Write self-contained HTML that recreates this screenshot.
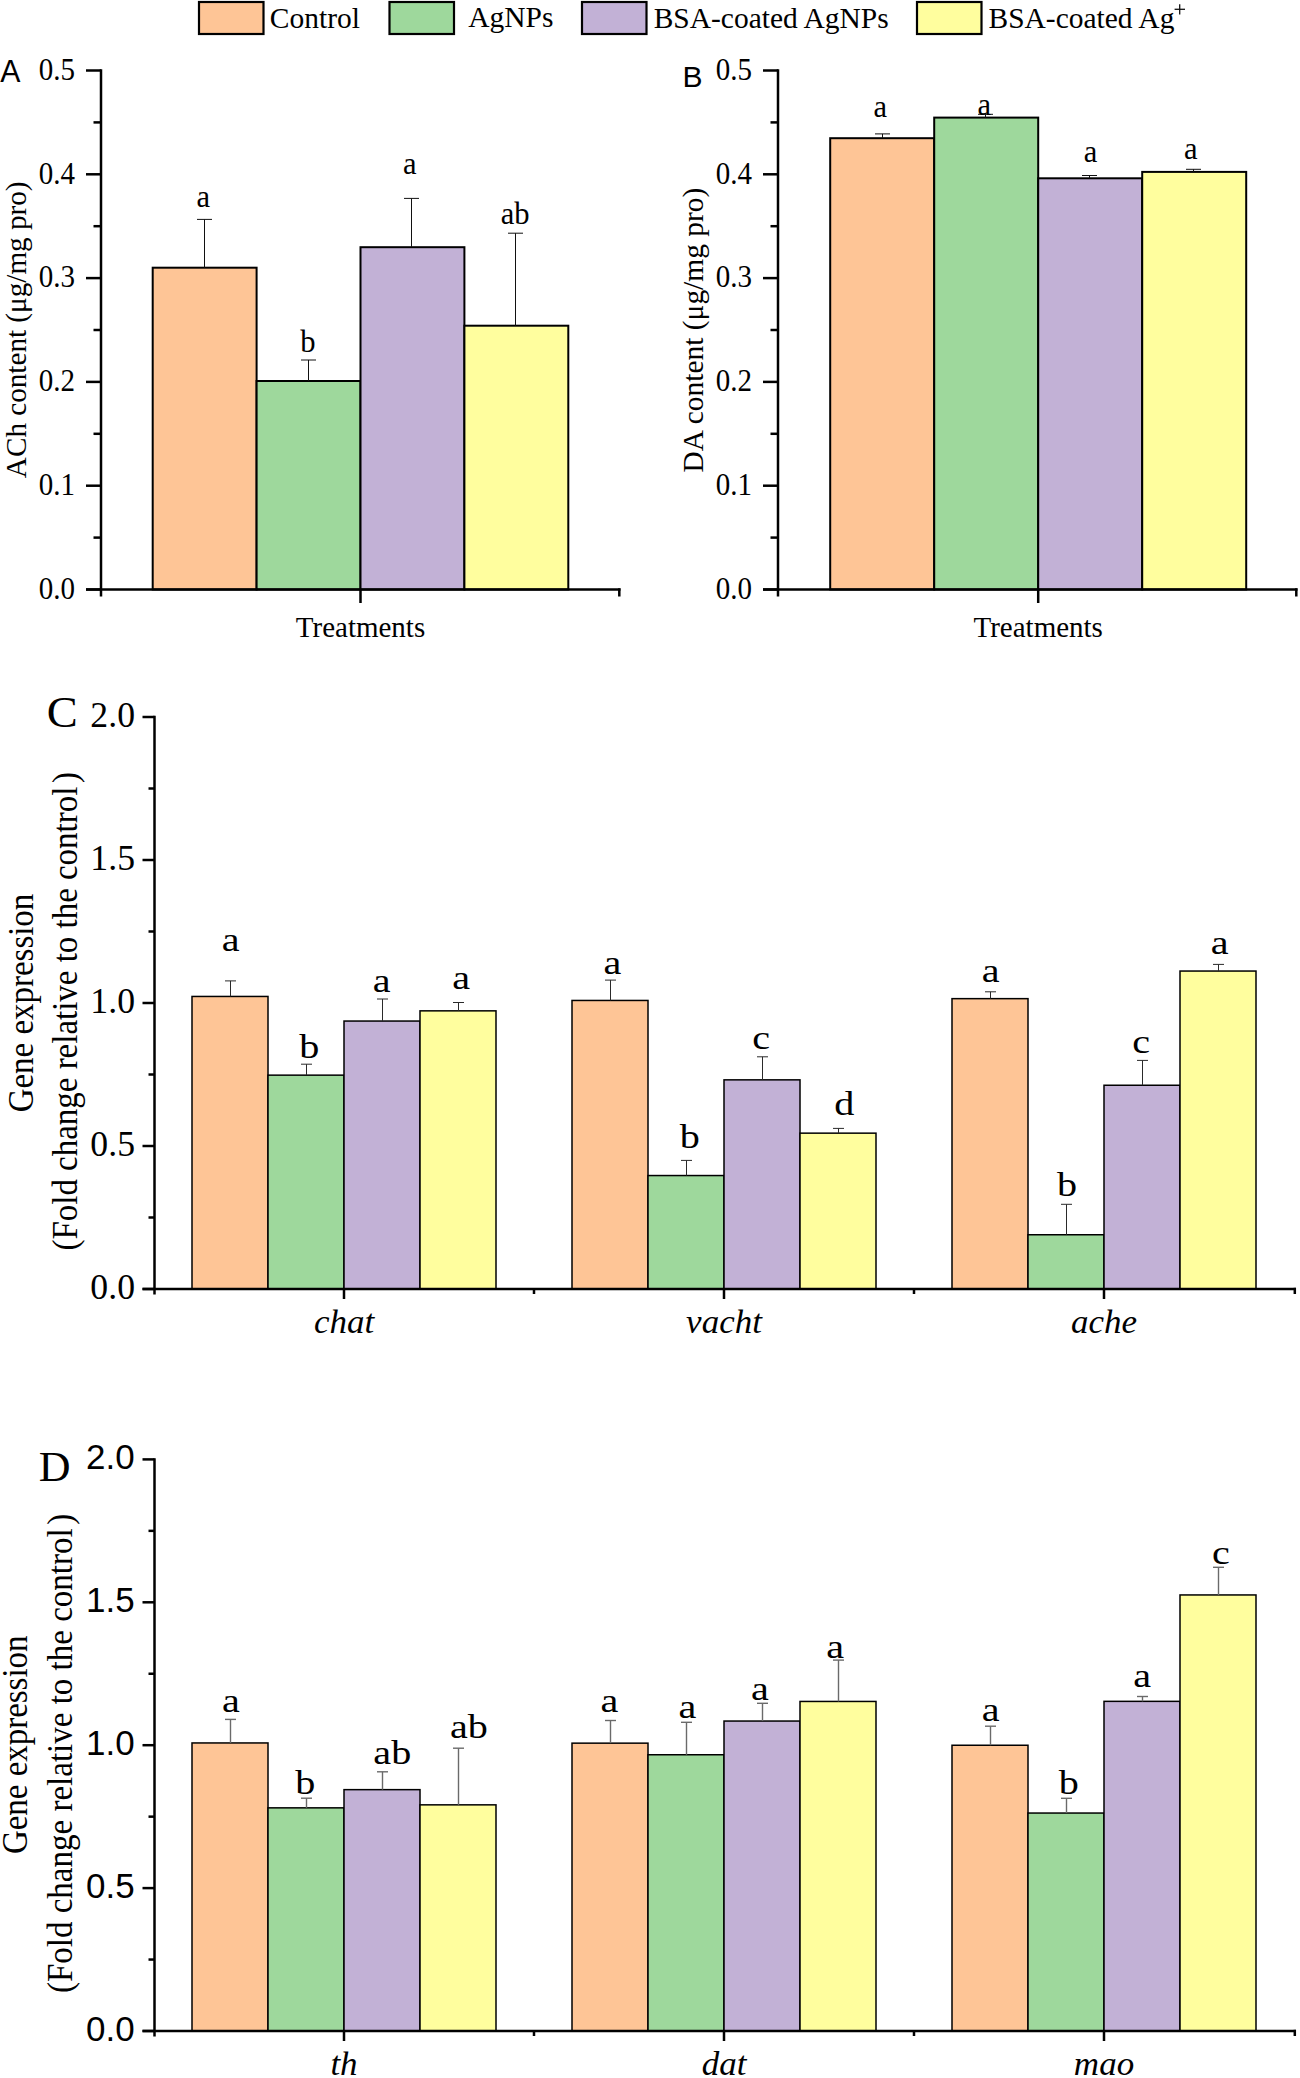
<!DOCTYPE html>
<html><head><meta charset="utf-8"><style>
html,body{margin:0;padding:0;background:#fff;}
svg{display:block;}
</style></head><body>
<svg width="1300" height="2078" viewBox="0 0 1300 2078">
<rect width="1300" height="2078" fill="#fff"/>
<rect x="199" y="2" width="64.5" height="32" fill="#FEC596" stroke="#000" stroke-width="2.2"/>
<rect x="389.5" y="2" width="64.5" height="32" fill="#9ED89C" stroke="#000" stroke-width="2.2"/>
<rect x="582" y="2" width="64.5" height="32" fill="#C2B1D6" stroke="#000" stroke-width="2.2"/>
<rect x="917" y="2" width="64.5" height="32" fill="#FFFE9E" stroke="#000" stroke-width="2.2"/>
<line x1="1174.6" y1="9.3" x2="1185" y2="9.3" stroke="#111" stroke-width="1.3"/>
<line x1="1179.7" y1="4.2" x2="1179.7" y2="14.5" stroke="#111" stroke-width="1.3"/>
<rect x="152.7" y="267.7" width="103.9" height="321.8" fill="#FEC596" stroke="#000" stroke-width="2"/>
<rect x="256.6" y="381" width="103.9" height="208.5" fill="#9ED89C" stroke="#000" stroke-width="2"/>
<rect x="360.5" y="247.2" width="103.9" height="342.3" fill="#C2B1D6" stroke="#000" stroke-width="2"/>
<rect x="464.40000000000003" y="325.7" width="103.9" height="263.8" fill="#FFFE9E" stroke="#000" stroke-width="2"/>
<line x1="204.5" y1="219.4" x2="204.5" y2="267.7" stroke="#111" stroke-width="1"/>
<line x1="197.0" y1="219.4" x2="212.0" y2="219.4" stroke="#111" stroke-width="1"/>
<line x1="308.5" y1="360" x2="308.5" y2="381" stroke="#111" stroke-width="1"/>
<line x1="301.0" y1="360" x2="316.0" y2="360" stroke="#111" stroke-width="1"/>
<line x1="411.5" y1="198.4" x2="411.5" y2="247.2" stroke="#111" stroke-width="1"/>
<line x1="404.0" y1="198.4" x2="419.0" y2="198.4" stroke="#111" stroke-width="1"/>
<line x1="515.5" y1="233.2" x2="515.5" y2="325.7" stroke="#111" stroke-width="1"/>
<line x1="508.0" y1="233.2" x2="523.0" y2="233.2" stroke="#111" stroke-width="1"/>
<line x1="101" y1="69.3" x2="101" y2="596.5" stroke="#000" stroke-width="2.5"/>
<line x1="86" y1="589.5" x2="620.5" y2="589.5" stroke="#000" stroke-width="2.5"/>
<line x1="86" y1="589.5" x2="101" y2="589.5" stroke="#000" stroke-width="2.5"/>
<line x1="86" y1="485.7" x2="101" y2="485.7" stroke="#000" stroke-width="2.5"/>
<line x1="86" y1="381.9" x2="101" y2="381.9" stroke="#000" stroke-width="2.5"/>
<line x1="86" y1="278.1" x2="101" y2="278.1" stroke="#000" stroke-width="2.5"/>
<line x1="86" y1="174.3" x2="101" y2="174.3" stroke="#000" stroke-width="2.5"/>
<line x1="86" y1="70.5" x2="101" y2="70.5" stroke="#000" stroke-width="2.5"/>
<line x1="93.5" y1="537.6" x2="101" y2="537.6" stroke="#000" stroke-width="2.5"/>
<line x1="93.5" y1="433.8" x2="101" y2="433.8" stroke="#000" stroke-width="2.5"/>
<line x1="93.5" y1="330.0" x2="101" y2="330.0" stroke="#000" stroke-width="2.5"/>
<line x1="93.5" y1="226.2" x2="101" y2="226.2" stroke="#000" stroke-width="2.5"/>
<line x1="93.5" y1="122.40000000000003" x2="101" y2="122.40000000000003" stroke="#000" stroke-width="2.5"/>
<line x1="360.5" y1="589.5" x2="360.5" y2="603.0" stroke="#000" stroke-width="2.5"/>
<line x1="619.3" y1="588.3" x2="619.3" y2="596.5" stroke="#000" stroke-width="2.5"/>
<rect x="830.2" y="138.2" width="104" height="451.3" fill="#FEC596" stroke="#000" stroke-width="2"/>
<rect x="934.2" y="117.6" width="104" height="471.9" fill="#9ED89C" stroke="#000" stroke-width="2"/>
<rect x="1038.2" y="178.3" width="104" height="411.2" fill="#C2B1D6" stroke="#000" stroke-width="2"/>
<rect x="1142.2" y="171.9" width="104" height="417.6" fill="#FFFE9E" stroke="#000" stroke-width="2"/>
<line x1="882.5" y1="133.9" x2="882.5" y2="138.2" stroke="#111" stroke-width="1"/>
<line x1="875.0" y1="133.9" x2="890.0" y2="133.9" stroke="#111" stroke-width="1"/>
<line x1="985.5" y1="114.3" x2="985.5" y2="117.6" stroke="#111" stroke-width="1"/>
<line x1="978.0" y1="114.3" x2="993.0" y2="114.3" stroke="#111" stroke-width="1"/>
<line x1="1089.5" y1="175.5" x2="1089.5" y2="178.3" stroke="#111" stroke-width="1"/>
<line x1="1082.0" y1="175.5" x2="1097.0" y2="175.5" stroke="#111" stroke-width="1"/>
<line x1="1193.5" y1="169.3" x2="1193.5" y2="171.9" stroke="#111" stroke-width="1"/>
<line x1="1186.0" y1="169.3" x2="1201.0" y2="169.3" stroke="#111" stroke-width="1"/>
<line x1="778" y1="69.3" x2="778" y2="596.5" stroke="#000" stroke-width="2.5"/>
<line x1="763" y1="589.5" x2="1297.5" y2="589.5" stroke="#000" stroke-width="2.5"/>
<line x1="763" y1="589.5" x2="778" y2="589.5" stroke="#000" stroke-width="2.5"/>
<line x1="763" y1="485.7" x2="778" y2="485.7" stroke="#000" stroke-width="2.5"/>
<line x1="763" y1="381.9" x2="778" y2="381.9" stroke="#000" stroke-width="2.5"/>
<line x1="763" y1="278.1" x2="778" y2="278.1" stroke="#000" stroke-width="2.5"/>
<line x1="763" y1="174.3" x2="778" y2="174.3" stroke="#000" stroke-width="2.5"/>
<line x1="763" y1="70.5" x2="778" y2="70.5" stroke="#000" stroke-width="2.5"/>
<line x1="770.5" y1="537.6" x2="778" y2="537.6" stroke="#000" stroke-width="2.5"/>
<line x1="770.5" y1="433.8" x2="778" y2="433.8" stroke="#000" stroke-width="2.5"/>
<line x1="770.5" y1="330.0" x2="778" y2="330.0" stroke="#000" stroke-width="2.5"/>
<line x1="770.5" y1="226.2" x2="778" y2="226.2" stroke="#000" stroke-width="2.5"/>
<line x1="770.5" y1="122.40000000000003" x2="778" y2="122.40000000000003" stroke="#000" stroke-width="2.5"/>
<line x1="1038.2" y1="589.5" x2="1038.2" y2="603.0" stroke="#000" stroke-width="2.5"/>
<line x1="1296.3" y1="588.3" x2="1296.3" y2="596.5" stroke="#000" stroke-width="2.5"/>
<rect x="192" y="996.45" width="76" height="292.54999999999995" fill="#FEC596" stroke="#000" stroke-width="1.5"/>
<rect x="268" y="1075.15" width="76" height="213.8499999999999" fill="#9ED89C" stroke="#000" stroke-width="1.5"/>
<rect x="344" y="1021.05" width="76" height="267.95000000000005" fill="#C2B1D6" stroke="#000" stroke-width="1.5"/>
<rect x="420" y="1010.85" width="76" height="278.15" fill="#FFFE9E" stroke="#000" stroke-width="1.5"/>
<rect x="572" y="1000.45" width="76" height="288.54999999999995" fill="#FEC596" stroke="#000" stroke-width="1.5"/>
<rect x="648" y="1175.55" width="76" height="113.45000000000005" fill="#9ED89C" stroke="#000" stroke-width="1.5"/>
<rect x="724" y="1079.85" width="76" height="209.1500000000001" fill="#C2B1D6" stroke="#000" stroke-width="1.5"/>
<rect x="800" y="1133.15" width="76" height="155.8499999999999" fill="#FFFE9E" stroke="#000" stroke-width="1.5"/>
<rect x="952" y="998.65" width="76" height="290.35" fill="#FEC596" stroke="#000" stroke-width="1.5"/>
<rect x="1028" y="1234.75" width="76" height="54.25" fill="#9ED89C" stroke="#000" stroke-width="1.5"/>
<rect x="1104" y="1085.25" width="76" height="203.75" fill="#C2B1D6" stroke="#000" stroke-width="1.5"/>
<rect x="1180" y="971.05" width="76" height="317.95000000000005" fill="#FFFE9E" stroke="#000" stroke-width="1.5"/>
<line x1="230.5" y1="980.9" x2="230.5" y2="996.45" stroke="#2a2a2a" stroke-width="1"/>
<line x1="225.0" y1="980.9" x2="236.0" y2="980.9" stroke="#2a2a2a" stroke-width="1"/>
<line x1="306.5" y1="1064.2" x2="306.5" y2="1075.15" stroke="#2a2a2a" stroke-width="1"/>
<line x1="301.0" y1="1064.2" x2="312.0" y2="1064.2" stroke="#2a2a2a" stroke-width="1"/>
<line x1="382.5" y1="999" x2="382.5" y2="1021.05" stroke="#2a2a2a" stroke-width="1"/>
<line x1="377.0" y1="999" x2="388.0" y2="999" stroke="#2a2a2a" stroke-width="1"/>
<line x1="458.5" y1="1002.5" x2="458.5" y2="1010.85" stroke="#2a2a2a" stroke-width="1"/>
<line x1="453.0" y1="1002.5" x2="464.0" y2="1002.5" stroke="#2a2a2a" stroke-width="1"/>
<line x1="610.5" y1="980.1" x2="610.5" y2="1000.45" stroke="#2a2a2a" stroke-width="1"/>
<line x1="605.0" y1="980.1" x2="616.0" y2="980.1" stroke="#2a2a2a" stroke-width="1"/>
<line x1="686.5" y1="1160.4" x2="686.5" y2="1175.55" stroke="#2a2a2a" stroke-width="1"/>
<line x1="681.0" y1="1160.4" x2="692.0" y2="1160.4" stroke="#2a2a2a" stroke-width="1"/>
<line x1="762.5" y1="1056.8" x2="762.5" y2="1079.85" stroke="#2a2a2a" stroke-width="1"/>
<line x1="757.0" y1="1056.8" x2="768.0" y2="1056.8" stroke="#2a2a2a" stroke-width="1"/>
<line x1="838.5" y1="1128.4" x2="838.5" y2="1133.15" stroke="#2a2a2a" stroke-width="1"/>
<line x1="833.0" y1="1128.4" x2="844.0" y2="1128.4" stroke="#2a2a2a" stroke-width="1"/>
<line x1="990.5" y1="991.8" x2="990.5" y2="998.65" stroke="#2a2a2a" stroke-width="1"/>
<line x1="985.0" y1="991.8" x2="996.0" y2="991.8" stroke="#2a2a2a" stroke-width="1"/>
<line x1="1066.5" y1="1204.3" x2="1066.5" y2="1234.75" stroke="#2a2a2a" stroke-width="1"/>
<line x1="1061.0" y1="1204.3" x2="1072.0" y2="1204.3" stroke="#2a2a2a" stroke-width="1"/>
<line x1="1142.5" y1="1060.4" x2="1142.5" y2="1085.25" stroke="#2a2a2a" stroke-width="1"/>
<line x1="1137.0" y1="1060.4" x2="1148.0" y2="1060.4" stroke="#2a2a2a" stroke-width="1"/>
<line x1="1218.5" y1="964.4" x2="1218.5" y2="971.05" stroke="#2a2a2a" stroke-width="1"/>
<line x1="1213.0" y1="964.4" x2="1224.0" y2="964.4" stroke="#2a2a2a" stroke-width="1"/>
<line x1="154.5" y1="715.8" x2="154.5" y2="1294.5" stroke="#000" stroke-width="2.5"/>
<line x1="142.5" y1="1289" x2="1296" y2="1289" stroke="#000" stroke-width="2.5"/>
<line x1="142.5" y1="1289" x2="154.5" y2="1289" stroke="#000" stroke-width="2.5"/>
<line x1="142.5" y1="1146" x2="154.5" y2="1146" stroke="#000" stroke-width="2.5"/>
<line x1="142.5" y1="1003" x2="154.5" y2="1003" stroke="#000" stroke-width="2.5"/>
<line x1="142.5" y1="860" x2="154.5" y2="860" stroke="#000" stroke-width="2.5"/>
<line x1="142.5" y1="717" x2="154.5" y2="717" stroke="#000" stroke-width="2.5"/>
<line x1="148.5" y1="1217.5" x2="154.5" y2="1217.5" stroke="#000" stroke-width="2.5"/>
<line x1="148.5" y1="1074.5" x2="154.5" y2="1074.5" stroke="#000" stroke-width="2.5"/>
<line x1="148.5" y1="931.5" x2="154.5" y2="931.5" stroke="#000" stroke-width="2.5"/>
<line x1="148.5" y1="788.5" x2="154.5" y2="788.5" stroke="#000" stroke-width="2.5"/>
<line x1="344" y1="1289" x2="344" y2="1299" stroke="#000" stroke-width="2.5"/>
<line x1="724" y1="1289" x2="724" y2="1299" stroke="#000" stroke-width="2.5"/>
<line x1="1104" y1="1289" x2="1104" y2="1299" stroke="#000" stroke-width="2.5"/>
<line x1="534" y1="1289" x2="534" y2="1294" stroke="#000" stroke-width="2.5"/>
<line x1="914" y1="1289" x2="914" y2="1294" stroke="#000" stroke-width="2.5"/>
<line x1="1294.8" y1="1287.8" x2="1294.8" y2="1294" stroke="#000" stroke-width="2.5"/>
<rect x="192" y="1742.95" width="76" height="288.04999999999995" fill="#FEC596" stroke="#000" stroke-width="1.5"/>
<rect x="268" y="1807.85" width="76" height="223.1500000000001" fill="#9ED89C" stroke="#000" stroke-width="1.5"/>
<rect x="344" y="1789.65" width="76" height="241.3499999999999" fill="#C2B1D6" stroke="#000" stroke-width="1.5"/>
<rect x="420" y="1804.85" width="76" height="226.1500000000001" fill="#FFFE9E" stroke="#000" stroke-width="1.5"/>
<rect x="572" y="1743.15" width="76" height="287.8499999999999" fill="#FEC596" stroke="#000" stroke-width="1.5"/>
<rect x="648" y="1754.75" width="76" height="276.25" fill="#9ED89C" stroke="#000" stroke-width="1.5"/>
<rect x="724" y="1721.05" width="76" height="309.95000000000005" fill="#C2B1D6" stroke="#000" stroke-width="1.5"/>
<rect x="800" y="1701.45" width="76" height="329.54999999999995" fill="#FFFE9E" stroke="#000" stroke-width="1.5"/>
<rect x="952" y="1745.25" width="76" height="285.75" fill="#FEC596" stroke="#000" stroke-width="1.5"/>
<rect x="1028" y="1813.05" width="76" height="217.95000000000005" fill="#9ED89C" stroke="#000" stroke-width="1.5"/>
<rect x="1104" y="1701.35" width="76" height="329.6500000000001" fill="#C2B1D6" stroke="#000" stroke-width="1.5"/>
<rect x="1180" y="1594.95" width="76" height="436.04999999999995" fill="#FFFE9E" stroke="#000" stroke-width="1.5"/>
<line x1="230.5" y1="1719.4" x2="230.5" y2="1742.95" stroke="#6a6a6a" stroke-width="1.4"/>
<line x1="225.0" y1="1719.4" x2="236.0" y2="1719.4" stroke="#6a6a6a" stroke-width="1.4"/>
<line x1="306.5" y1="1798.2" x2="306.5" y2="1807.85" stroke="#6a6a6a" stroke-width="1.4"/>
<line x1="301.0" y1="1798.2" x2="312.0" y2="1798.2" stroke="#6a6a6a" stroke-width="1.4"/>
<line x1="382.5" y1="1771.8" x2="382.5" y2="1789.65" stroke="#6a6a6a" stroke-width="1.4"/>
<line x1="377.0" y1="1771.8" x2="388.0" y2="1771.8" stroke="#6a6a6a" stroke-width="1.4"/>
<line x1="458.5" y1="1748.2" x2="458.5" y2="1804.85" stroke="#6a6a6a" stroke-width="1.4"/>
<line x1="453.0" y1="1748.2" x2="464.0" y2="1748.2" stroke="#6a6a6a" stroke-width="1.4"/>
<line x1="610.5" y1="1720.5" x2="610.5" y2="1743.15" stroke="#6a6a6a" stroke-width="1.4"/>
<line x1="605.0" y1="1720.5" x2="616.0" y2="1720.5" stroke="#6a6a6a" stroke-width="1.4"/>
<line x1="686.5" y1="1722.3" x2="686.5" y2="1754.75" stroke="#6a6a6a" stroke-width="1.4"/>
<line x1="681.0" y1="1722.3" x2="692.0" y2="1722.3" stroke="#6a6a6a" stroke-width="1.4"/>
<line x1="762.5" y1="1703.3" x2="762.5" y2="1721.05" stroke="#6a6a6a" stroke-width="1.4"/>
<line x1="757.0" y1="1703.3" x2="768.0" y2="1703.3" stroke="#6a6a6a" stroke-width="1.4"/>
<line x1="838.5" y1="1660.1" x2="838.5" y2="1701.45" stroke="#6a6a6a" stroke-width="1.4"/>
<line x1="833.0" y1="1660.1" x2="844.0" y2="1660.1" stroke="#6a6a6a" stroke-width="1.4"/>
<line x1="990.5" y1="1726.2" x2="990.5" y2="1745.25" stroke="#6a6a6a" stroke-width="1.4"/>
<line x1="985.0" y1="1726.2" x2="996.0" y2="1726.2" stroke="#6a6a6a" stroke-width="1.4"/>
<line x1="1066.5" y1="1798.3" x2="1066.5" y2="1813.05" stroke="#6a6a6a" stroke-width="1.4"/>
<line x1="1061.0" y1="1798.3" x2="1072.0" y2="1798.3" stroke="#6a6a6a" stroke-width="1.4"/>
<line x1="1142.5" y1="1696.5" x2="1142.5" y2="1701.35" stroke="#6a6a6a" stroke-width="1.4"/>
<line x1="1137.0" y1="1696.5" x2="1148.0" y2="1696.5" stroke="#6a6a6a" stroke-width="1.4"/>
<line x1="1218.5" y1="1567.3" x2="1218.5" y2="1594.95" stroke="#6a6a6a" stroke-width="1.4"/>
<line x1="1213.0" y1="1567.3" x2="1224.0" y2="1567.3" stroke="#6a6a6a" stroke-width="1.4"/>
<line x1="154.5" y1="1458.2" x2="154.5" y2="2036.5" stroke="#000" stroke-width="2.5"/>
<line x1="142.5" y1="2031" x2="1296" y2="2031" stroke="#000" stroke-width="2.5"/>
<line x1="142.5" y1="2031.0" x2="154.5" y2="2031.0" stroke="#000" stroke-width="2.5"/>
<line x1="142.5" y1="1888.1" x2="154.5" y2="1888.1" stroke="#000" stroke-width="2.5"/>
<line x1="142.5" y1="1745.2" x2="154.5" y2="1745.2" stroke="#000" stroke-width="2.5"/>
<line x1="142.5" y1="1602.3" x2="154.5" y2="1602.3" stroke="#000" stroke-width="2.5"/>
<line x1="142.5" y1="1459.4" x2="154.5" y2="1459.4" stroke="#000" stroke-width="2.5"/>
<line x1="148.5" y1="1959.55" x2="154.5" y2="1959.55" stroke="#000" stroke-width="2.5"/>
<line x1="148.5" y1="1816.65" x2="154.5" y2="1816.65" stroke="#000" stroke-width="2.5"/>
<line x1="148.5" y1="1673.75" x2="154.5" y2="1673.75" stroke="#000" stroke-width="2.5"/>
<line x1="148.5" y1="1530.85" x2="154.5" y2="1530.85" stroke="#000" stroke-width="2.5"/>
<line x1="344" y1="2031" x2="344" y2="2041" stroke="#000" stroke-width="2.5"/>
<line x1="724" y1="2031" x2="724" y2="2041" stroke="#000" stroke-width="2.5"/>
<line x1="1104" y1="2031" x2="1104" y2="2041" stroke="#000" stroke-width="2.5"/>
<line x1="534" y1="2031" x2="534" y2="2036" stroke="#000" stroke-width="2.5"/>
<line x1="914" y1="2031" x2="914" y2="2036" stroke="#000" stroke-width="2.5"/>
<line x1="1294.8" y1="2029.8" x2="1294.8" y2="2036" stroke="#000" stroke-width="2.5"/>
<text transform="translate(269.85,27.80) scale(1.0000,0.9700)" font-size="29.5" font-family='"Liberation Serif", serif' text-anchor="start" font-style="normal">Control</text>
<text transform="translate(468.20,27.25) scale(1.0000,0.9700)" font-size="29.5" font-family='"Liberation Serif", serif' text-anchor="start" font-style="normal">AgNPs</text>
<text transform="translate(653.65,27.50) scale(1.0000,0.9700)" font-size="29.5" font-family='"Liberation Serif", serif' text-anchor="start" font-style="normal">BSA-coated AgNPs</text>
<text transform="translate(988.50,27.50) scale(1.0000,0.9700)" font-size="29.5" font-family='"Liberation Serif", serif' text-anchor="start" font-style="normal">BSA-coated Ag</text>
<text transform="translate(203.40,207.05) scale(1.0200,1.0600)" font-size="30" font-family='"Liberation Serif", serif' text-anchor="middle" font-style="normal">a</text>
<text transform="translate(308.00,351.90) scale(1.0200,1.0600)" font-size="30" font-family='"Liberation Serif", serif' text-anchor="middle" font-style="normal">b</text>
<text transform="translate(409.80,174.00) scale(1.0200,1.0600)" font-size="30" font-family='"Liberation Serif", serif' text-anchor="middle" font-style="normal">a</text>
<text transform="translate(515.20,224.15) scale(1.0200,1.0600)" font-size="30" font-family='"Liberation Serif", serif' text-anchor="middle" font-style="normal">ab</text>
<text transform="translate(75.00,598.70) scale(1.0000,1.0700)" font-size="29" font-family='"Liberation Serif", serif' text-anchor="end" font-style="normal">0.0</text>
<text transform="translate(75.00,494.90) scale(1.0000,1.0700)" font-size="29" font-family='"Liberation Serif", serif' text-anchor="end" font-style="normal">0.1</text>
<text transform="translate(75.00,391.10) scale(1.0000,1.0700)" font-size="29" font-family='"Liberation Serif", serif' text-anchor="end" font-style="normal">0.2</text>
<text transform="translate(75.00,287.30) scale(1.0000,1.0700)" font-size="29" font-family='"Liberation Serif", serif' text-anchor="end" font-style="normal">0.3</text>
<text transform="translate(75.00,183.50) scale(1.0000,1.0700)" font-size="29" font-family='"Liberation Serif", serif' text-anchor="end" font-style="normal">0.4</text>
<text transform="translate(75.00,79.70) scale(1.0000,1.0700)" font-size="29" font-family='"Liberation Serif", serif' text-anchor="end" font-style="normal">0.5</text>
<text transform="translate(360.50,636.70) scale(1.0000,1.0000)" font-size="29" font-family='"Liberation Serif", serif' text-anchor="middle" font-style="normal">Treatments</text>
<text transform="translate(0.36,82.41) scale(1.0444,1.0600)" font-size="29" font-family='"Liberation Sans", sans-serif' text-anchor="start" font-style="normal">A</text>
<text transform="translate(25.60,329.80) rotate(-90) scale(1.0058,1.0000)" x="0" y="0.00" font-size="29" font-family='"Liberation Serif", serif' text-anchor="middle" font-style="normal">ACh content (μg/mg pro)</text>
<text transform="translate(880.40,116.95) scale(1.0200,1.0600)" font-size="30" font-family='"Liberation Serif", serif' text-anchor="middle" font-style="normal">a</text>
<text transform="translate(984.20,114.50) scale(1.0200,1.0600)" font-size="30" font-family='"Liberation Serif", serif' text-anchor="middle" font-style="normal">a</text>
<text transform="translate(1090.50,161.90) scale(1.0200,1.0600)" font-size="30" font-family='"Liberation Serif", serif' text-anchor="middle" font-style="normal">a</text>
<text transform="translate(1190.90,159.00) scale(1.0200,1.0600)" font-size="30" font-family='"Liberation Serif", serif' text-anchor="middle" font-style="normal">a</text>
<text transform="translate(752.00,598.70) scale(1.0000,1.0700)" font-size="29" font-family='"Liberation Serif", serif' text-anchor="end" font-style="normal">0.0</text>
<text transform="translate(752.00,494.90) scale(1.0000,1.0700)" font-size="29" font-family='"Liberation Serif", serif' text-anchor="end" font-style="normal">0.1</text>
<text transform="translate(752.00,391.10) scale(1.0000,1.0700)" font-size="29" font-family='"Liberation Serif", serif' text-anchor="end" font-style="normal">0.2</text>
<text transform="translate(752.00,287.30) scale(1.0000,1.0700)" font-size="29" font-family='"Liberation Serif", serif' text-anchor="end" font-style="normal">0.3</text>
<text transform="translate(752.00,183.50) scale(1.0000,1.0700)" font-size="29" font-family='"Liberation Serif", serif' text-anchor="end" font-style="normal">0.4</text>
<text transform="translate(752.00,79.70) scale(1.0000,1.0700)" font-size="29" font-family='"Liberation Serif", serif' text-anchor="end" font-style="normal">0.5</text>
<text transform="translate(1038.20,636.70) scale(1.0000,1.0000)" font-size="29" font-family='"Liberation Serif", serif' text-anchor="middle" font-style="normal">Treatments</text>
<text transform="translate(682.52,86.99) scale(1.0375,1.0150)" font-size="29" font-family='"Liberation Sans", sans-serif' text-anchor="start" font-style="normal">B</text>
<text transform="translate(703.00,330.10) rotate(-90) scale(0.9993,1.0000)" x="0" y="0.00" font-size="29.5" font-family='"Liberation Serif", serif' text-anchor="middle" font-style="normal">DA content (μg/mg pro)</text>
<text transform="translate(230.60,950.55) scale(1.1800,1.0000)" font-size="34" font-family='"Liberation Serif", serif' text-anchor="middle" font-style="normal">a</text>
<text transform="translate(309.30,1058.45) scale(1.1800,1.0000)" font-size="34" font-family='"Liberation Serif", serif' text-anchor="middle" font-style="normal">b</text>
<text transform="translate(381.60,992.30) scale(1.1800,1.0000)" font-size="34" font-family='"Liberation Serif", serif' text-anchor="middle" font-style="normal">a</text>
<text transform="translate(461.10,989.10) scale(1.1800,1.0000)" font-size="34" font-family='"Liberation Serif", serif' text-anchor="middle" font-style="normal">a</text>
<text transform="translate(612.30,974.40) scale(1.1800,1.0000)" font-size="34" font-family='"Liberation Serif", serif' text-anchor="middle" font-style="normal">a</text>
<text transform="translate(689.70,1148.30) scale(1.1800,1.0000)" font-size="34" font-family='"Liberation Serif", serif' text-anchor="middle" font-style="normal">b</text>
<text transform="translate(761.10,1049.15) scale(1.1800,1.0000)" font-size="34" font-family='"Liberation Serif", serif' text-anchor="middle" font-style="normal">c</text>
<text transform="translate(844.40,1114.95) scale(1.1800,1.0000)" font-size="34" font-family='"Liberation Serif", serif' text-anchor="middle" font-style="normal">d</text>
<text transform="translate(990.60,982.35) scale(1.1800,1.0000)" font-size="34" font-family='"Liberation Serif", serif' text-anchor="middle" font-style="normal">a</text>
<text transform="translate(1067.00,1195.75) scale(1.1800,1.0000)" font-size="34" font-family='"Liberation Serif", serif' text-anchor="middle" font-style="normal">b</text>
<text transform="translate(1141.10,1053.40) scale(1.1800,1.0000)" font-size="34" font-family='"Liberation Serif", serif' text-anchor="middle" font-style="normal">c</text>
<text transform="translate(1219.70,953.70) scale(1.1800,1.0000)" font-size="34" font-family='"Liberation Serif", serif' text-anchor="middle" font-style="normal">a</text>
<text transform="translate(135.00,1298.50) scale(1.0500,1.0300)" font-size="34" font-family='"Liberation Serif", serif' text-anchor="end" font-style="normal">0.0</text>
<text transform="translate(135.00,1155.50) scale(1.0500,1.0300)" font-size="34" font-family='"Liberation Serif", serif' text-anchor="end" font-style="normal">0.5</text>
<text transform="translate(135.00,1012.50) scale(1.0500,1.0300)" font-size="34" font-family='"Liberation Serif", serif' text-anchor="end" font-style="normal">1.0</text>
<text transform="translate(135.00,869.50) scale(1.0500,1.0300)" font-size="34" font-family='"Liberation Serif", serif' text-anchor="end" font-style="normal">1.5</text>
<text transform="translate(135.00,726.50) scale(1.0500,1.0300)" font-size="34" font-family='"Liberation Serif", serif' text-anchor="end" font-style="normal">2.0</text>
<text transform="translate(344.00,1333.00) scale(1.0000,0.9700)" font-size="35" font-family='"Liberation Serif", serif' text-anchor="middle" font-style="italic">chat</text>
<text transform="translate(724.00,1333.00) scale(1.0000,0.9700)" font-size="35" font-family='"Liberation Serif", serif' text-anchor="middle" font-style="italic">vacht</text>
<text transform="translate(1104.00,1333.00) scale(1.0000,0.9700)" font-size="35" font-family='"Liberation Serif", serif' text-anchor="middle" font-style="italic">ache</text>
<text transform="translate(46.74,726.79) scale(1.1338,1.0769)" font-size="41" font-family='"Liberation Serif", serif' text-anchor="start" font-style="normal">C</text>
<text transform="translate(32.80,1003.03) rotate(-90) scale(0.9156,1.0000)" x="0" y="0.00" font-size="36" font-family='"Liberation Serif", serif' text-anchor="middle" font-style="normal">Gene expression</text>
<text transform="translate(77.00,1011.29) rotate(-90) scale(0.9156,1.0000)" x="0" y="0.00" font-size="36" font-family='"Liberation Serif", serif' text-anchor="middle" font-style="normal">(Fold change relative to the control<tspan dx="4">)</tspan></text>
<text transform="translate(230.90,1711.95) scale(1.1800,1.0000)" font-size="34" font-family='"Liberation Serif", serif' text-anchor="middle" font-style="normal">a</text>
<text transform="translate(305.30,1794.00) scale(1.1800,1.0000)" font-size="34" font-family='"Liberation Serif", serif' text-anchor="middle" font-style="normal">b</text>
<text transform="translate(392.30,1764.35) scale(1.1800,1.0000)" font-size="34" font-family='"Liberation Serif", serif' text-anchor="middle" font-style="normal">ab</text>
<text transform="translate(469.00,1738.15) scale(1.1800,1.0000)" font-size="34" font-family='"Liberation Serif", serif' text-anchor="middle" font-style="normal">ab</text>
<text transform="translate(609.30,1711.90) scale(1.1800,1.0000)" font-size="34" font-family='"Liberation Serif", serif' text-anchor="middle" font-style="normal">a</text>
<text transform="translate(687.30,1718.10) scale(1.1800,1.0000)" font-size="34" font-family='"Liberation Serif", serif' text-anchor="middle" font-style="normal">a</text>
<text transform="translate(759.90,1699.80) scale(1.1800,1.0000)" font-size="34" font-family='"Liberation Serif", serif' text-anchor="middle" font-style="normal">a</text>
<text transform="translate(835.10,1657.55) scale(1.1800,1.0000)" font-size="34" font-family='"Liberation Serif", serif' text-anchor="middle" font-style="normal">a</text>
<text transform="translate(990.60,1720.70) scale(1.1800,1.0000)" font-size="34" font-family='"Liberation Serif", serif' text-anchor="middle" font-style="normal">a</text>
<text transform="translate(1068.90,1793.95) scale(1.1800,1.0000)" font-size="34" font-family='"Liberation Serif", serif' text-anchor="middle" font-style="normal">b</text>
<text transform="translate(1142.20,1687.30) scale(1.1800,1.0000)" font-size="34" font-family='"Liberation Serif", serif' text-anchor="middle" font-style="normal">a</text>
<text transform="translate(1220.80,1564.35) scale(1.1800,1.0000)" font-size="34" font-family='"Liberation Serif", serif' text-anchor="middle" font-style="normal">c</text>
<text transform="translate(134.70,2041.00) scale(1.0600,1.0400)" font-size="33" font-family='"Liberation Sans", sans-serif' text-anchor="end" font-style="normal">0.0</text>
<text transform="translate(134.70,1898.10) scale(1.0600,1.0400)" font-size="33" font-family='"Liberation Sans", sans-serif' text-anchor="end" font-style="normal">0.5</text>
<text transform="translate(134.70,1755.20) scale(1.0600,1.0400)" font-size="33" font-family='"Liberation Sans", sans-serif' text-anchor="end" font-style="normal">1.0</text>
<text transform="translate(134.70,1612.30) scale(1.0600,1.0400)" font-size="33" font-family='"Liberation Sans", sans-serif' text-anchor="end" font-style="normal">1.5</text>
<text transform="translate(134.70,1469.40) scale(1.0600,1.0400)" font-size="33" font-family='"Liberation Sans", sans-serif' text-anchor="end" font-style="normal">2.0</text>
<text transform="translate(344.00,2075.00) scale(1.0000,0.9700)" font-size="35" font-family='"Liberation Serif", serif' text-anchor="middle" font-style="italic">th</text>
<text transform="translate(724.00,2075.00) scale(1.0000,0.9700)" font-size="35" font-family='"Liberation Serif", serif' text-anchor="middle" font-style="italic">dat</text>
<text transform="translate(1104.00,2075.00) scale(1.0000,0.9700)" font-size="35" font-family='"Liberation Serif", serif' text-anchor="middle" font-style="italic">mao</text>
<text transform="translate(38.63,1481.39) scale(1.0743,1.0423)" font-size="41" font-family='"Liberation Serif", serif' text-anchor="start" font-style="normal">D</text>
<text transform="translate(27.30,1744.79) rotate(-90) scale(0.9152,1.0000)" x="0" y="0.00" font-size="36" font-family='"Liberation Serif", serif' text-anchor="middle" font-style="normal">Gene expression</text>
<text transform="translate(71.70,1753.40) rotate(-90) scale(0.9173,1.0000)" x="0" y="0.00" font-size="36" font-family='"Liberation Serif", serif' text-anchor="middle" font-style="normal">(Fold change relative to the control<tspan dx="4">)</tspan></text>
</svg>
</body></html>
